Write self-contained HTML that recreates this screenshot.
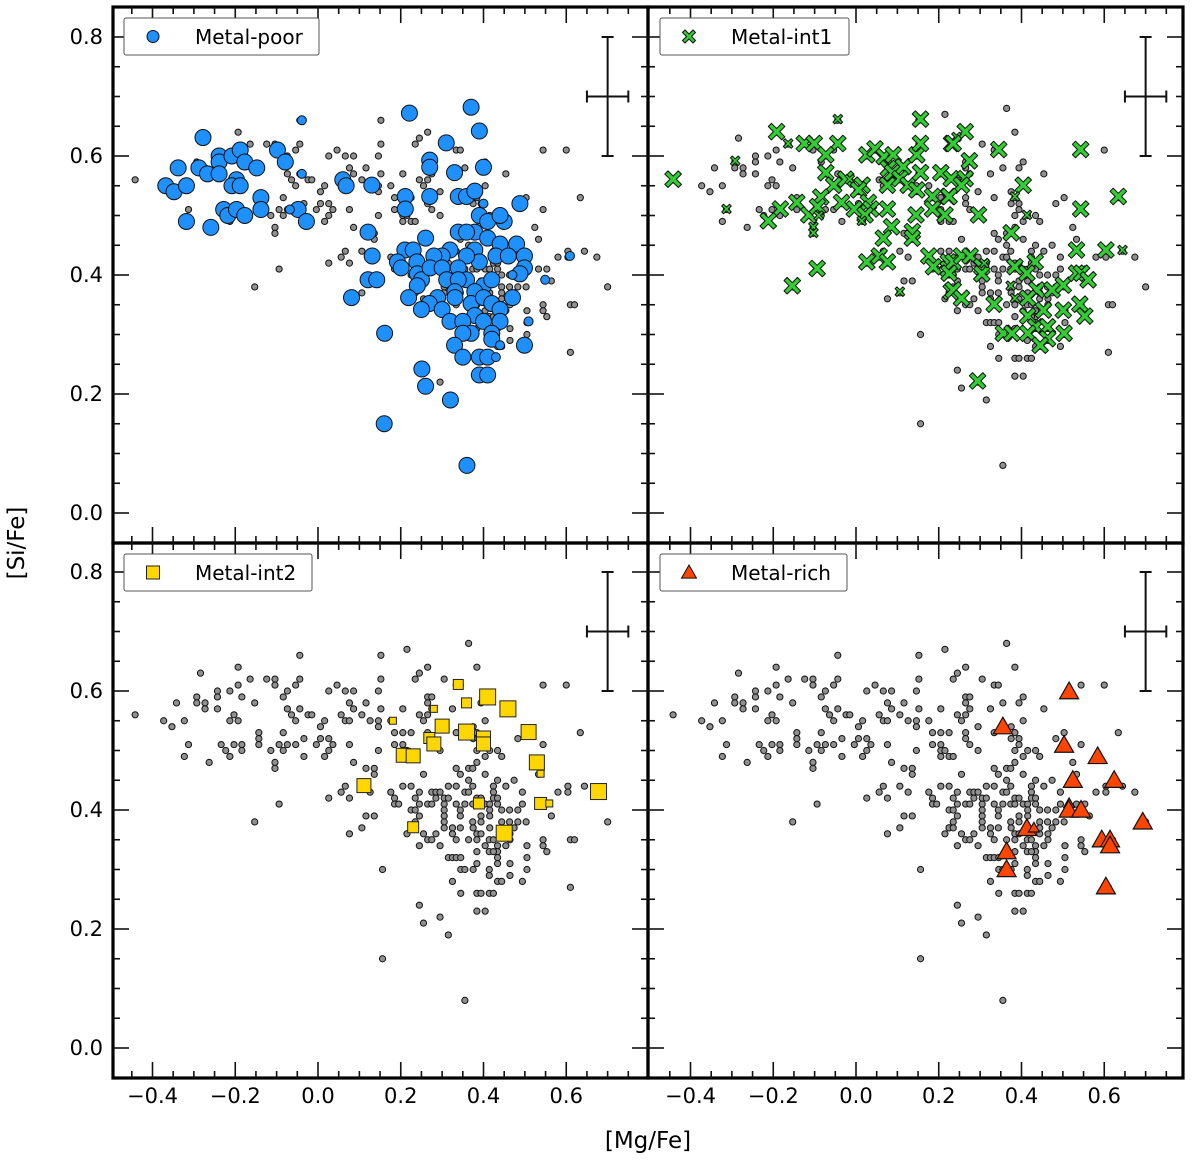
<!DOCTYPE html>
<html><head><meta charset="utf-8"><style>
html,body{margin:0;padding:0;background:#fff;}
svg{display:block;font-family:"DejaVu Sans","Liberation Sans",sans-serif;}
</style></head><body>
<svg id="chart" width="1200" height="1161" viewBox="0 0 1200 1161" xmlns="http://www.w3.org/2000/svg">
<g id="marks"></g>
<g id="frames"></g>
<g id="axes"></g>
<text x="648" y="1148" font-size="23" text-anchor="middle">[Mg/Fe]</text>
<text x="0" y="0" font-size="23" text-anchor="middle" transform="translate(24,543) rotate(-90)">[Si/Fe]</text>
</svg>
<script>
// ---- data (x=[Mg/Fe], y=[Si/Fe]) ----
const grayPts = [[-0.442,0.56],[-0.373,0.55],[-0.353,0.54],[-0.342,0.58],[-0.323,0.55],[-0.313,0.51],[-0.323,0.49],[-0.293,0.59],[-0.293,0.58],[-0.284,0.63],[-0.273,0.58],[-0.273,0.57],[-0.263,0.48],[-0.243,0.60],[-0.243,0.59],[-0.243,0.57],[-0.234,0.51],[-0.223,0.50],[-0.213,0.60],[-0.213,0.55],[-0.213,0.49],[-0.203,0.56],[-0.203,0.51],[-0.193,0.64],[-0.193,0.61],[-0.193,0.55],[-0.184,0.59],[-0.184,0.51],[-0.184,0.50],[-0.164,0.62],[-0.153,0.58],[-0.153,0.38],[-0.143,0.53],[-0.143,0.52],[-0.143,0.51],[-0.124,0.62],[-0.114,0.50],[-0.104,0.62],[-0.104,0.61],[-0.104,0.48],[-0.104,0.47],[-0.094,0.51],[-0.094,0.41],[-0.084,0.59],[-0.084,0.53],[-0.084,0.50],[-0.074,0.60],[-0.074,0.57],[-0.074,0.51],[-0.064,0.56],[-0.054,0.61],[-0.054,0.55],[-0.054,0.51],[-0.044,0.66],[-0.044,0.62],[-0.044,0.57],[-0.034,0.52],[-0.034,0.49],[-0.024,0.56],[-0.015,0.56],[-0.004,0.51],[0.006,0.54],[0.006,0.52],[0.016,0.55],[0.016,0.49],[0.026,0.60],[0.026,0.52],[0.026,0.50],[0.026,0.42],[0.036,0.51],[0.046,0.61],[0.056,0.56],[0.056,0.43],[0.066,0.60],[0.066,0.55],[0.066,0.44],[0.076,0.58],[0.076,0.55],[0.076,0.51],[0.076,0.42],[0.086,0.60],[0.086,0.57],[0.086,0.48],[0.106,0.56],[0.106,0.44],[0.106,0.37],[0.116,0.58],[0.116,0.47],[0.116,0.39],[0.126,0.55],[0.126,0.43],[0.136,0.47],[0.136,0.46],[0.136,0.39],[0.146,0.60],[0.146,0.55],[0.146,0.54],[0.146,0.50],[0.152,0.66],[0.152,0.62],[0.152,0.57],
[0.215,0.67],[0.364,0.68],[0.245,0.63],[0.235,0.62],[0.265,0.64],[0.305,0.62],[0.334,0.61],[0.344,0.61],[0.384,0.64],[0.265,0.59],[0.275,0.59],[0.265,0.58],[0.275,0.57],[0.205,0.57],[0.325,0.57],[0.355,0.58],[0.394,0.58],[0.404,0.59],[0.454,0.57],[0.176,0.55],[0.245,0.56],[0.265,0.56],[0.255,0.55],[0.295,0.54],[0.375,0.54],[0.404,0.55],[0.185,0.53],[0.205,0.53],[0.225,0.53],[0.265,0.53],[0.265,0.52],[0.334,0.53],[0.384,0.53],[0.375,0.52],[0.394,0.52],[0.394,0.51],[0.185,0.51],[0.205,0.51],[0.205,0.50],[0.215,0.50],[0.275,0.51],[0.205,0.49],[0.225,0.49],[0.235,0.49],[0.295,0.50],[0.384,0.50],[0.415,0.50],[0.434,0.50],[0.404,0.49],[0.444,0.49],[0.483,0.52],[0.503,0.53],[0.544,0.51],[0.544,0.61],[0.634,0.53],[0.384,0.48],[0.255,0.46],[0.334,0.47],[0.344,0.46],[0.364,0.47],[0.374,0.47],[0.404,0.46],[0.434,0.45],[0.474,0.45],[0.524,0.48],[0.533,0.46],[0.176,0.43],[0.185,0.42],[0.185,0.41],[0.195,0.41],[0.205,0.44],[0.225,0.44],[0.235,0.42],[0.245,0.41],[0.265,0.41],[0.275,0.41],[0.245,0.43],[0.275,0.43],[0.285,0.43],[0.295,0.43],[0.285,0.42],[0.305,0.42],[0.315,0.42],[0.315,0.44],[0.334,0.44],[0.305,0.41],[0.305,0.40],[0.305,0.39],[0.305,0.38],[0.305,0.37],[0.334,0.41],[0.355,0.41],[0.344,0.40],[0.344,0.39],[0.355,0.43],[0.364,0.43],[0.374,0.44],[0.364,0.45],[0.384,0.42],[0.394,0.42],[0.374,0.41],[0.384,0.41],[0.404,0.41],[0.415,0.41],[0.424,0.44],[0.424,0.43],[0.424,0.42],[0.434,0.42],[0.434,0.41],[0.454,0.44],[0.494,0.43],[0.444,0.40],[0.463,0.40],[0.483,0.40],[0.494,0.41],[0.533,0.41],[0.553,0.41],[0.604,0.44],[0.604,0.43],[0.644,0.44],[0.674,0.43],[0.394,0.39],[0.415,0.40],[0.415,0.39],[0.225,0.40],[0.235,0.40],[0.245,0.39],[0.235,0.38],[0.225,0.37],[0.374,0.38],[0.394,0.38],[0.444,0.38],[0.463,0.38],[0.483,0.38],[0.503,0.38],[0.564,0.39],[0.325,0.37],[0.344,0.37],[0.415,0.37],
[0.076,0.36],[0.215,0.36],[0.225,0.37],[0.235,0.37],[0.255,0.36],[0.265,0.35],[0.275,0.35],[0.285,0.36],[0.245,0.34],[0.295,0.34],[0.325,0.36],[0.334,0.35],[0.364,0.35],[0.375,0.37],[0.384,0.36],[0.394,0.36],[0.384,0.35],[0.404,0.34],[0.414,0.35],[0.424,0.35],[0.434,0.34],[0.434,0.33],[0.434,0.32],[0.434,0.31],[0.414,0.33],[0.424,0.33],[0.444,0.37],[0.444,0.36],[0.454,0.34],[0.464,0.36],[0.464,0.35],[0.474,0.37],[0.464,0.31],[0.464,0.29],[0.505,0.34],[0.505,0.32],[0.505,0.30],[0.494,0.28],[0.544,0.35],[0.544,0.34],[0.553,0.33],[0.315,0.32],[0.325,0.32],[0.334,0.32],[0.345,0.32],[0.345,0.30],[0.355,0.30],[0.375,0.30],[0.384,0.33],[0.384,0.31],[0.414,0.30],[0.414,0.29],[0.434,0.28],[0.444,0.28],[0.325,0.28],[0.345,0.26],[0.384,0.26],[0.394,0.26],[0.414,0.26],[0.424,0.26],[0.384,0.23],[0.404,0.23],[0.156,0.30],[0.245,0.24],[0.255,0.21],[0.295,0.22],[0.315,0.19],[0.156,0.15],[0.355,0.08],[0.61,0.35],[0.62,0.35],[0.70,0.38],[0.61,0.27],[0.58,0.43],[0.60,0.61]];

// Metal-poor: [x, y, big(1)/small(0)]
const poorPts = [[-0.278,0.631,1],[-0.338,0.58,1],[-0.368,0.55,1],[-0.348,0.54,1],[-0.318,0.55,1],[-0.288,0.58,1],[-0.267,0.57,1],[-0.239,0.60,1],[-0.239,0.59,1],[-0.239,0.57,1],[-0.208,0.60,1],[-0.188,0.61,1],[-0.177,0.59,1],[-0.148,0.58,1],[-0.197,0.56,1],[-0.208,0.55,1],[-0.188,0.55,1],[-0.138,0.53,1],[-0.138,0.51,1],[-0.228,0.51,1],[-0.218,0.50,1],[-0.197,0.51,1],[-0.177,0.50,1],[-0.318,0.49,1],[-0.259,0.48,1],[-0.098,0.61,1],[-0.079,0.59,1],[-0.039,0.57,0],[-0.048,0.51,1],[-0.068,0.51,0],[-0.028,0.49,1],[-0.039,0.66,0],[0.060,0.56,1],[0.068,0.55,1],
[0.221,0.672,1],[0.370,0.682,1],[0.390,0.642,1],[0.310,0.622,1],[0.270,0.593,1],[0.270,0.581,1],[0.330,0.572,1],[0.400,0.581,1],[0.130,0.551,1],[0.211,0.532,1],[0.211,0.511,1],[0.270,0.532,1],[0.339,0.532,1],[0.359,0.532,1],[0.379,0.541,1],[0.400,0.52,0],[0.488,0.52,1],[0.390,0.50,1],[0.410,0.49,1],[0.450,0.49,1],[0.440,0.50,1],[0.121,0.472,1],[0.131,0.432,1],[0.121,0.392,1],[0.142,0.392,1],[0.081,0.362,1],[0.161,0.302,1],[0.260,0.462,1],[0.339,0.472,1],[0.379,0.472,1],[0.359,0.472,1],[0.410,0.462,1],[0.440,0.452,1],[0.480,0.452,1],[0.499,0.432,1],[0.499,0.412,1],[0.488,0.402,1],[0.47,0.40,0],[0.549,0.392,0],[0.609,0.432,0],[0.430,0.432,1],[0.460,0.432,1],[0.379,0.442,1],[0.390,0.422,1],[0.359,0.432,1],[0.319,0.442,1],[0.300,0.432,1],[0.280,0.432,1],[0.210,0.442,1],[0.230,0.442,1],[0.239,0.422,1],[0.192,0.422,1],[0.201,0.412,1],[0.240,0.402,1],[0.250,0.392,1],[0.240,0.382,1],[0.271,0.412,1],[0.300,0.412,1],[0.339,0.412,1],[0.359,0.392,1],[0.311,0.392,1],[0.339,0.392,1],[0.400,0.382,1],[0.420,0.392,1],[0.379,0.372,1],[0.331,0.372,1],[0.331,0.362,1],[0.289,0.362,1],[0.269,0.352,1],[0.219,0.362,1],[0.250,0.342,1],[0.300,0.342,1],[0.370,0.352,1],[0.400,0.362,1],[0.420,0.352,1],[0.470,0.362,1],[0.440,0.342,1],[0.379,0.332,1],[0.319,0.322,1],[0.350,0.322,1],[0.440,0.322,1],[0.400,0.322,1],[0.370,0.302,1],[0.350,0.302,1],[0.420,0.302,1],[0.420,0.292,1],[0.330,0.282,1],[0.499,0.282,1],[0.44,0.282,0],[0.350,0.262,1],[0.390,0.262,1],[0.410,0.262,1],[0.43,0.262,0],[0.509,0.322,0],[0.390,0.232,1],[0.410,0.232,1],[0.251,0.242,1],[0.260,0.213,1],[0.32,0.19,1],[0.16,0.15,1],[0.36,0.08,1]];

// Metal-int1: [x, y, big(1)/small(0)]
const int1Pts = [[-0.442,0.561,1],[-0.292,0.592,0],[-0.313,0.511,0],[-0.192,0.641,1],[-0.164,0.621,0],[-0.044,0.662,0],[-0.125,0.621,1],[-0.101,0.621,1],[-0.044,0.621,1],[-0.073,0.602,1],[-0.073,0.572,1],[-0.054,0.551,1],[-0.025,0.561,1],[-0.015,0.561,0],[0.015,0.551,1],[0.006,0.543,1],[-0.085,0.531,1],[-0.035,0.522,1],[-0.143,0.522,1],[-0.183,0.511,1],[-0.212,0.491,1],[-0.114,0.501,1],[-0.093,0.515,1],[-0.103,0.481,0],[-0.103,0.471,0],[-0.09,0.50,0],[-0.004,0.511,1],[0.030,0.522,1],[0.036,0.511,1],[0.022,0.501,1],[0.014,0.491,0],[0.076,0.511,1],[0.026,0.602,1],[0.046,0.612,1],[0.068,0.599,1],[0.090,0.602,1],[0.078,0.579,1],[0.088,0.572,1],[0.076,0.551,1],[0.114,0.582,1],[0.106,0.562,1],[0.126,0.551,1],[0.147,0.543,1],[0.147,0.602,1],[0.156,0.621,1],[0.156,0.662,1],[0.156,0.572,1],[0.205,0.572,1],[0.231,0.621,1],[0.23,0.562,1],[0.223,0.532,1],[0.185,0.532,1],[0.185,0.511,1],[0.215,0.501,1],[0.145,0.501,1],[0.086,0.481,1],[0.066,0.462,1],[0.136,0.473,1],[0.136,0.462,1],[0.026,0.422,1],[0.056,0.432,1],[0.076,0.422,1],[0.176,0.432,1],[0.187,0.414,1],[0.223,0.422,1],[0.223,0.41,1],[-0.094,0.411,1],[-0.154,0.382,1],[0.106,0.372,0],[0.23,0.372,1],
[0.264,0.641,1],[0.243,0.632,0],[0.235,0.621,1],[0.345,0.611,1],[0.543,0.611,1],[0.274,0.592,1],[0.264,0.562,1],[0.255,0.551,1],[0.404,0.551,1],[0.225,0.532,1],[0.384,0.532,0],[0.634,0.532,1],[0.296,0.501,1],[0.413,0.501,0],[0.543,0.511,1],[0.375,0.471,1],[0.533,0.442,1],[0.604,0.442,1],[0.644,0.442,0],[0.235,0.422,1],[0.255,0.432,1],[0.276,0.432,1],[0.225,0.403,1],[0.304,0.414,1],[0.304,0.402,1],[0.31,0.42,0],[0.235,0.375,1],[0.255,0.361,1],[0.334,0.351,1],[0.384,0.414,1],[0.433,0.422,1],[0.413,0.403,1],[0.437,0.375,1],[0.474,0.375,1],[0.501,0.383,1],[0.533,0.403,1],[0.545,0.403,1],[0.561,0.392,1],[0.374,0.382,0],[0.384,0.361,0],[0.415,0.361,1],[0.453,0.341,1],[0.415,0.331,1],[0.501,0.341,1],[0.541,0.351,1],[0.553,0.331,1],[0.434,0.313,1],[0.463,0.313,1],[0.356,0.302,1],[0.377,0.302,1],[0.415,0.302,1],[0.463,0.293,1],[0.445,0.282,1],[0.503,0.302,1],[0.294,0.222,1]];

// Metal-int2 squares: [x, y, side(px)]
const int2Pts = [[0.339,0.611,10],[0.359,0.580,10],[0.410,0.590,16],[0.459,0.570,16],[0.280,0.570,7],[0.181,0.550,7],[0.300,0.541,14],[0.359,0.531,16],[0.400,0.521,14],[0.400,0.511,14],[0.269,0.521,11],[0.280,0.511,14],[0.206,0.492,14],[0.230,0.491,14],[0.509,0.531,15],[0.529,0.480,15],[0.538,0.461,7],[0.111,0.441,14],[0.678,0.431,16],[0.389,0.411,11],[0.538,0.411,12],[0.559,0.411,7],[0.230,0.371,11],[0.450,0.361,16]];

// Metal-rich triangles: [x, y, big(1)/small(0)]
const richPts = [[0.515,0.599,1],[0.355,0.54,1],[0.503,0.509,1],[0.584,0.49,1],[0.524,0.45,1],[0.624,0.45,1],[0.515,0.411,0],[0.514,0.40,1],[0.544,0.40,1],[0.693,0.38,1],[0.413,0.369,1],[0.43,0.37,0],[0.364,0.33,1],[0.364,0.30,1],[0.594,0.35,1],[0.614,0.35,1],[0.614,0.34,1],[0.604,0.271,1]];

const yTickLabels = ["0.0","0.2","0.4","0.6","0.8"];
const yTickValues = [0,0.2,0.4,0.6,0.8];
const xTickLabels = ["\u22120.4","\u22120.2","0.0","0.2","0.4","0.6"];
const xTickValues = [-0.4,-0.2,0,0.2,0.4,0.6];
const errX = 0.70, errY = 0.70, errDX = 0.05, errDY = 0.10;

// ---- geometry ----
const NS = "http://www.w3.org/2000/svg";
const KX = 413.75, KY = 595;
const panels = [
  {ox:318, oy:513, L:113, R:648, T:7, B:543, name:"metal-poor"},
  {ox:856, oy:513, L:648, R:1183, T:7, B:543, name:"metal-int1"},
  {ox:318, oy:1048, L:113, R:648, T:543, B:1078, name:"metal-int2"},
  {ox:856, oy:1048, L:648, R:1183, T:543, B:1078, name:"metal-rich"}
];
function sx(p,x){return p.ox + x*KX;}
function sy(p,y){return p.oy - y*KY;}
function mk(tag, attrs, parent){const e=document.createElementNS(NS,tag);for(const k in attrs)e.setAttribute(k,attrs[k]);parent.appendChild(e);return e;}
const marks=document.getElementById('marks'), frames=document.getElementById('frames'), axes=document.getElementById('axes');

function grayLayer(p){
  const g=mk('g',{},marks);
  
  
  grayPts.forEach(d=>{
    const c=mk('circle',{cx:sx(p,d[0]),cy:sy(p,d[1]),r:3.1,fill:'#909090',stroke:'#111','stroke-width':1},g);
    
    
  });
}
function xPath(cx,cy,s){
  const w=s*0.38, a=s;
  const pts=[[0,-w*1.0],[a-w,-a],[a,-a+w],[w,0],[a,a-w],[a-w,a],[0,w],[-a+w,a],[-a,a-w],[-w,0],[-a,-a+w],[-a+w,-a]];
  return pts.map(q=>(cx+q[0]).toFixed(1)+','+(cy+q[1]).toFixed(1)).join(' ');
}
function triPts(cx,cy,s){return `${cx},${cy-s} ${cx+s*1.0},${cy+s*0.75} ${cx-s*1.0},${cy+s*0.75}`;}

panels.forEach(p=>grayLayer(p));

{
  const p=panels[0]; const g=mk('g',{},marks);
  
  
  poorPts.forEach(d=>{
    const c=mk('circle',{cx:sx(p,d[0]),cy:sy(p,d[1]),r:d[2]?8:4.5,fill:'#1e90ff',stroke:'#111','stroke-width':1},g);
    
    
  });
}
{
  const p=panels[1]; const g=mk('g',{},marks);
  
  
  int1Pts.forEach(d=>{
    const c=mk('polygon',{points:xPath(sx(p,d[0]),sy(p,d[1]),d[2]?8.3:4.8),fill:'#32cd32',stroke:'#111','stroke-width':1,'stroke-linejoin':'round'},g);
    
    
  });
}
{
  const p=panels[2]; const g=mk('g',{},marks);
  
  
  int2Pts.forEach(d=>{
    const s=d[2];
    const c=mk('rect',{x:sx(p,d[0])-s/2,y:sy(p,d[1])-s/2,width:s,height:s,fill:'#ffd700',stroke:'#222','stroke-width':1},g);
    
    
  });
}
{
  const p=panels[3]; const g=mk('g',{},marks);
  
  
  richPts.forEach(d=>{
    const c=mk('polygon',{points:triPts(sx(p,d[0]),sy(p,d[1]),d[2]?9.5:5.5),fill:'#ff4500',stroke:'#111','stroke-width':1.2,'stroke-linejoin':'miter'},g);
    
    
  });
}

panels.forEach((p,i)=>{
  const eg=mk('g',{stroke:'#111','stroke-width':2},marks);
  
  
  const ex=sx(p,errX), ey=sy(p,errY);
  mk('line',{x1:ex,y1:sy(p,errY+errDY),x2:ex,y2:sy(p,errY-errDY)},eg);
  mk('line',{x1:sx(p,errX-errDX),y1:ey,x2:sx(p,errX+errDX),y2:ey},eg);
  mk('line',{x1:ex-6,y1:sy(p,errY+errDY),x2:ex+6,y2:sy(p,errY+errDY)},eg);
  mk('line',{x1:ex-6,y1:sy(p,errY-errDY),x2:ex+6,y2:sy(p,errY-errDY)},eg);
  mk('line',{x1:sx(p,errX-errDX),y1:ey-6,x2:sx(p,errX-errDX),y2:ey+6},eg);
  mk('line',{x1:sx(p,errX+errDX),y1:ey-6,x2:sx(p,errX+errDX),y2:ey+6},eg);

  const tg=mk('g',{stroke:'#111','stroke-width':1.6},axes);
  
  
  for(let k=-10;k<=16;k++){
    const v=k*0.05, X=sx(p,v);
    if(X<=p.L+2||X>=p.R-2) continue;
    const len=(k%4===0)?16:7;
    mk('line',{x1:X,y1:p.B,x2:X,y2:p.B-len},tg);
    mk('line',{x1:X,y1:p.T,x2:X,y2:p.T+len},tg);
  }
  for(let k=-1;k<=17;k++){
    const v=k*0.05, Y=sy(p,v);
    if(Y<=p.T+2||Y>=p.B-2) continue;
    const len=(k%4===0)?16:7;
    mk('line',{x1:p.L,y1:Y,x2:p.L+len,y2:Y},tg);
    mk('line',{x1:p.R,y1:Y,x2:p.R-len,y2:Y},tg);
  }
  const fr=mk('rect',{x:p.L,y:p.T,width:p.R-p.L,height:p.B-p.T,fill:'none',stroke:'#000','stroke-width':3.2},frames);
  
  
});

[panels[0],panels[2]].forEach(p=>{
  yTickValues.forEach((v,j)=>{
    const t=mk('text',{x:103,y:sy(p,v)+7,'font-size':21,'text-anchor':'end'},axes);
    t.textContent=yTickLabels[j];
    
    
  });
});
[panels[2],panels[3]].forEach(p=>{
  xTickValues.forEach((v,j)=>{
    const t=mk('text',{x:sx(p,v),y:1103,'font-size':21,'text-anchor':'middle'},axes);
    t.textContent=xTickLabels[j];
    
    
  });
});

const legends=[
  {x:124,y:18,w:195,label:'Metal-poor',kind:'circle'},
  {x:660,y:18,w:189,label:'Metal-int1',kind:'x'},
  {x:124,y:554,w:188,label:'Metal-int2',kind:'square'},
  {x:660,y:554,w:187,label:'Metal-rich',kind:'tri'}
];
legends.forEach(l=>{
  const g=mk('g',{},axes);
  
  
  mk('rect',{x:l.x,y:l.y,width:l.w,height:37,fill:'#fff',stroke:'#555','stroke-width':1,rx:2},g);
  const mx=l.x+29, my=l.y+18.5;
  if(l.kind==='circle') mk('circle',{cx:mx,cy:my,r:6,fill:'#1e90ff',stroke:'#111','stroke-width':1},g);
  if(l.kind==='x') mk('polygon',{points:xPath(mx,my,6.5),fill:'#32cd32',stroke:'#111','stroke-width':1},g);
  if(l.kind==='square') mk('rect',{x:mx-6.5,y:my-6.5,width:13,height:13,fill:'#ffd700',stroke:'#222','stroke-width':1},g);
  if(l.kind==='tri') mk('polygon',{points:triPts(mx,my,7.5),fill:'#ff4500',stroke:'#111','stroke-width':1},g);
  const t=mk('text',{x:l.x+71,y:l.y+26,'font-size':20},g);
  t.textContent=l.label;
});
</script>
</body></html>
